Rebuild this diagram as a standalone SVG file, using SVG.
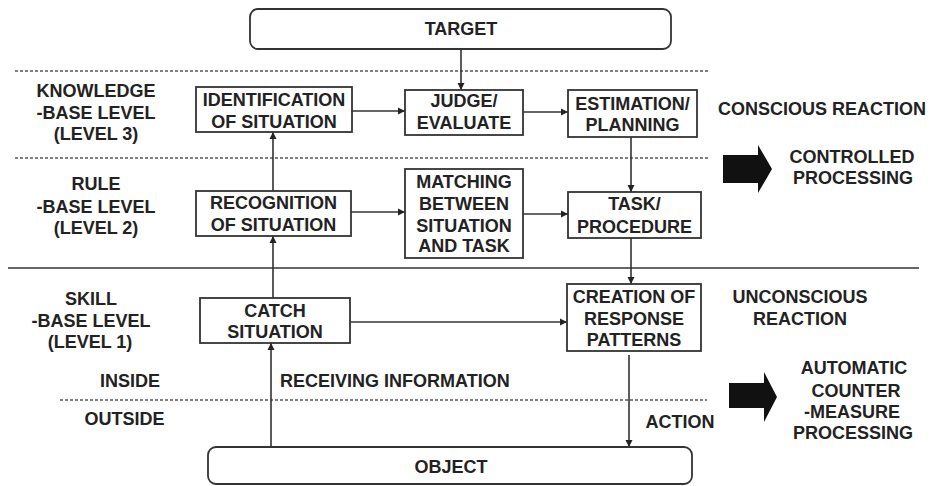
<svg xmlns="http://www.w3.org/2000/svg" width="932" height="486" viewBox="0 0 932 486">
<defs>
<marker id="ah" viewBox="0 0 10 10" refX="10" refY="5" markerWidth="7" markerHeight="8" markerUnits="userSpaceOnUse" orient="auto">
<path d="M0,0 L10,5 L0,10 z" fill="#222"/>
</marker>
<style>
text{font-family:"Liberation Sans",Arial,sans-serif;font-weight:bold;font-size:18px;fill:#222}
.c{text-anchor:middle}
.box{fill:#fff;stroke:#333;stroke-width:1.8}
.dot{stroke:#555;stroke-width:1.3;stroke-dasharray:3 2;fill:none}
.ln{stroke:#333;stroke-width:1.6;fill:none}
.ar{stroke:#333;stroke-width:1.6;fill:none;marker-end:url(#ah)}
</style>
</defs>
<rect width="932" height="486" fill="#fff"/>
<g id="separators">
<line class="dot" x1="15" y1="71" x2="710" y2="71"/>
<line class="dot" x1="15" y1="158" x2="710" y2="158"/>
<line class="ln" x1="8" y1="268" x2="919" y2="268"/>
<line class="dot" x1="60" y1="400" x2="707" y2="400"/>
</g>
<g id="labels">
<text class="c" x="96" y="96.5">KNOWLEDGE</text>
<text class="c" x="96" y="118.5">-BASE LEVEL</text>
<text class="c" x="96" y="140">(LEVEL 3)</text>
<text class="c" x="96" y="189.5">RULE</text>
<text class="c" x="96" y="212.5">-BASE LEVEL</text>
<text class="c" x="96" y="234">(LEVEL 2)</text>
<text class="c" x="91" y="305">SKILL</text>
<text class="c" x="91" y="327">-BASE LEVEL</text>
<text class="c" x="90" y="348">(LEVEL 1)</text>
<text class="c" x="130" y="386.5">INSIDE</text>
<text class="c" x="124.5" y="424.5">OUTSIDE</text>
<text x="280" y="386.5">RECEIVING INFORMATION</text>
<text class="c" x="680" y="428">ACTION</text>
<text class="c" x="822" y="115">CONSCIOUS REACTION</text>
<text class="c" x="852" y="163">CONTROLLED</text>
<text class="c" x="853" y="184">PROCESSING</text>
<text class="c" x="800" y="303">UNCONSCIOUS</text>
<text class="c" x="800" y="324.5">REACTION</text>
<text class="c" x="854" y="374">AUTOMATIC</text>
<text class="c" x="856" y="396.5">COUNTER</text>
<text class="c" x="852" y="418">-MEASURE</text>
<text class="c" x="853" y="439">PROCESSING</text>
</g>
<g id="bigarrows">
<path d="M723,155 L758,155 L758,145 L772,169 L758,193 L758,183 L723,183 z" fill="#111"/>
<path d="M729,383 L764,383 L764,372 L777,397 L764,422 L764,408 L729,408 z" fill="#111"/>
</g>
<g id="connectors">
<line class="ar" x1="461" y1="49" x2="461" y2="90"/>
<line class="ar" x1="352" y1="111" x2="405" y2="111"/>
<line class="ar" x1="523" y1="112" x2="568" y2="112"/>
<line class="ar" x1="273" y1="191" x2="273" y2="132"/>
<line class="ar" x1="351" y1="212" x2="405" y2="212"/>
<line class="ar" x1="523" y1="214" x2="568" y2="214"/>
<line class="ar" x1="631" y1="137" x2="631" y2="192"/>
<line class="ar" x1="273" y1="298" x2="273" y2="236"/>
<line class="ar" x1="350" y1="322" x2="567" y2="322"/>
<line class="ar" x1="631" y1="238" x2="631" y2="284"/>
<line class="ar" x1="271" y1="447" x2="271" y2="343"/>
<line class="ar" x1="629" y1="355" x2="629" y2="447"/>
</g>
<g id="target">
<rect class="box" x="250" y="9" width="421" height="40" rx="8"/>
<text class="c" x="461" y="35">TARGET</text>
</g>
<g id="identification">
<rect class="box" x="196" y="87" width="156" height="45"/>
<text class="c" x="274" y="105.5">IDENTIFICATION</text>
<text class="c" x="274" y="128">OF SITUATION</text>
</g>
<g id="judge">
<rect class="box" x="405" y="90" width="118" height="45"/>
<text class="c" x="464" y="106.5">JUDGE/</text>
<text class="c" x="464" y="129">EVALUATE</text>
</g>
<g id="estimation">
<rect class="box" x="568" y="90" width="129" height="47"/>
<text class="c" x="632.5" y="109.5">ESTIMATION/</text>
<text class="c" x="632.5" y="130.5">PLANNING</text>
</g>
<g id="recognition">
<rect class="box" x="196" y="191" width="155" height="45"/>
<text class="c" x="273.5" y="209">RECOGNITION</text>
<text class="c" x="273.5" y="230.5">OF SITUATION</text>
</g>
<g id="matching">
<rect class="box" x="405" y="169" width="118" height="89"/>
<text class="c" x="464" y="188">MATCHING</text>
<text class="c" x="464" y="210">BETWEEN</text>
<text class="c" x="464" y="231.5">SITUATION</text>
<text class="c" x="464" y="251.5">AND TASK</text>
</g>
<g id="task">
<rect class="box" x="568" y="192" width="133" height="46"/>
<text class="c" x="634.5" y="209.5">TASK/</text>
<text class="c" x="634.5" y="233">PROCEDURE</text>
</g>
<g id="catch">
<rect class="box" x="200" y="298" width="150" height="45"/>
<text class="c" x="275" y="317">CATCH</text>
<text class="c" x="275" y="338">SITUATION</text>
</g>
<g id="creation">
<rect class="box" x="567" y="284" width="134" height="67"/>
<text class="c" x="634" y="303">CREATION OF</text>
<text class="c" x="634" y="324.5">RESPONSE</text>
<text class="c" x="634" y="345.5">PATTERNS</text>
</g>
<g id="object">
<rect class="box" x="208" y="447" width="484" height="37" rx="8"/>
<text class="c" x="451" y="473">OBJECT</text>
</g>
</svg>
